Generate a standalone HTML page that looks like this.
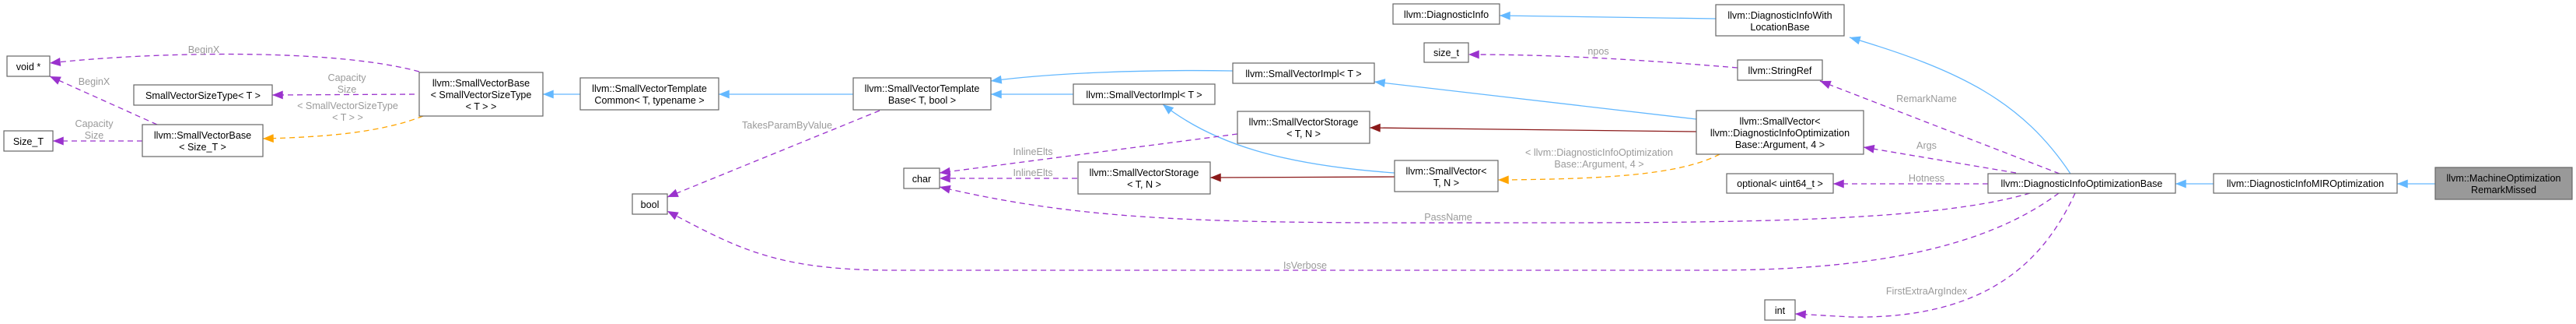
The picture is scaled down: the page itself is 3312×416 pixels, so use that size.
<!DOCTYPE html>
<html><head><meta charset="utf-8"><style>
html,body{margin:0;padding:0;background:#fff;}
svg{display:block;}
text{font-family:"Liberation Sans",Arial,sans-serif;font-size:12.6px;fill:#000;}
.l{fill:#9a9a9a;}
.n{fill:#fff;stroke:#666;stroke-width:1.2;}
.b{stroke:#63b8ff;stroke-width:1.3;fill:none;}
.r{stroke:#8b1a1a;stroke-width:1.3;fill:none;}
.p{stroke:#9a32cd;stroke-width:1.3;fill:none;stroke-dasharray:7,5;}
.o{stroke:#ffa500;stroke-width:1.3;fill:none;stroke-dasharray:7,5;}
</style></head><body>
<svg width="3312" height="416" viewBox="0 0 3312 416" xmlns="http://www.w3.org/2000/svg">
<defs>
<marker id="ab" viewBox="0 0 10 8" refX="10" refY="4" markerWidth="14" markerHeight="11" markerUnits="userSpaceOnUse" orient="auto"><path d="M0,0L10,4L0,8z" fill="#63b8ff"/></marker>
<marker id="ar" viewBox="0 0 10 8" refX="10" refY="4" markerWidth="14" markerHeight="11" markerUnits="userSpaceOnUse" orient="auto"><path d="M0,0L10,4L0,8z" fill="#8b1a1a"/></marker>
<marker id="ap" viewBox="0 0 10 8" refX="10" refY="4" markerWidth="14" markerHeight="11" markerUnits="userSpaceOnUse" orient="auto"><path d="M0,0L10,4L0,8z" fill="#9a32cd"/></marker>
<marker id="ao" viewBox="0 0 10 8" refX="10" refY="4" markerWidth="14" markerHeight="11" markerUnits="userSpaceOnUse" orient="auto"><path d="M0,0L10,4L0,8z" fill="#ffa500"/></marker>
</defs>

<!-- edges blue -->
<path class="b" d="M746,121 L698,121" marker-end="url(#ab)"/>
<path class="b" d="M1097,121 L924,121" marker-end="url(#ab)"/>
<path class="b" d="M1380,121 L1274,121" marker-end="url(#ab)"/>
<path class="b" d="M1585,91 C1470,89 1350,94 1274,104" marker-end="url(#ab)"/>
<path class="b" d="M1793,222 C1650,212 1560,185 1495,134" marker-end="url(#ab)"/>
<path class="b" d="M2181,153 L1767,105" marker-end="url(#ab)"/>
<path class="b" d="M2206,24 L1928,20" marker-end="url(#ab)"/>
<path class="b" d="M2662,223 C2600,130 2520,90 2378,48" marker-end="url(#ab)"/>
<path class="b" d="M2846,236 L2797,236" marker-end="url(#ab)"/>
<path class="b" d="M3131,236 L3082,236" marker-end="url(#ab)"/>
<!-- dark red -->
<path class="r" d="M1793,227 L1556,228" marker-end="url(#ar)"/>
<path class="r" d="M2181,169 L1761,164" marker-end="url(#ar)"/>
<!-- orange -->
<path class="o" d="M544,149 C490,170 420,176 338,178" marker-end="url(#ao)"/>
<path class="o" d="M2211,198 C2160,225 2060,230 1926,231" marker-end="url(#ao)"/>
<!-- purple -->
<path class="p" d="M539,92 C430,62 200,66 64,81" marker-end="url(#ap)"/>
<path class="p" d="M202,160 L64,98" marker-end="url(#ap)"/>
<path class="p" d="M533,121 L350,122" marker-end="url(#ap)"/>
<path class="p" d="M183,181 L68,181" marker-end="url(#ap)"/>
<path class="p" d="M1131,142 L858,253" marker-end="url(#ap)"/>
<path class="p" d="M1591,172 L1208,222" marker-end="url(#ap)"/>
<path class="p" d="M1385,229 L1208,229" marker-end="url(#ap)"/>
<path class="p" d="M2610,248 C2500,280 2300,286 2000,286 C1600,286 1420,290 1208,240" marker-end="url(#ap)"/>
<path class="p" d="M2647,248 C2550,320 2400,347 2200,347 L1150,347 C1000,347 950,320 858,271" marker-end="url(#ap)"/>
<path class="p" d="M2648,223 L2340,104" marker-end="url(#ap)"/>
<path class="p" d="M2592,222 L2396,189" marker-end="url(#ap)"/>
<path class="p" d="M2556,236 L2357,236" marker-end="url(#ap)"/>
<path class="p" d="M2668,248 C2630,330 2560,410 2380,407 L2308,403" marker-end="url(#ap)"/>
<path class="p" d="M2234,87 C2100,76 2000,70 1888,70" marker-end="url(#ap)"/>

<!-- edge labels -->
<g class="l" text-anchor="middle">
<text class="l" x="262" y="68">BeginX</text>
<text class="l" x="121" y="109">BeginX</text>
<text class="l" x="446" y="104">Capacity</text>
<text class="l" x="446" y="119">Size</text>
<text class="l" x="121" y="163">Capacity</text>
<text class="l" x="121" y="178">Size</text>
<text class="l" x="447" y="140">&lt; SmallVectorSizeType</text>
<text class="l" x="447" y="155">&lt; T &gt; &gt;</text>
<text class="l" x="1012" y="165">TakesParamByValue</text>
<text class="l" x="1328" y="199">InlineElts</text>
<text class="l" x="1328" y="226">InlineElts</text>
<text class="l" x="2055" y="70">npos</text>
<text class="l" x="1862" y="283">PassName</text>
<text class="l" x="1678" y="345">IsVerbose</text>
<text class="l" x="2056" y="200">&lt; llvm::DiagnosticInfoOptimization</text>
<text class="l" x="2056" y="215">Base::Argument, 4 &gt;</text>
<text class="l" x="2477" y="131">RemarkName</text>
<text class="l" x="2477" y="191">Args</text>
<text class="l" x="2477" y="233">Hotness</text>
<text class="l" x="2477" y="378">FirstExtraArgIndex</text>
</g>

<!-- nodes -->
<g text-anchor="middle">
<rect class="n" x="9" y="72" width="55" height="26"/><text x="36.5" y="90">void *</text>
<rect class="n" x="172" y="109" width="178" height="26"/><text x="261" y="127">SmallVectorSizeType&lt; T &gt;</text>
<rect class="n" x="5" y="168" width="63" height="26"/><text x="36.5" y="186">Size_T</text>
<rect class="n" x="183" y="160" width="155" height="41"/><text x="260.5" y="178">llvm::SmallVectorBase</text><text x="260.5" y="193">&lt; Size_T &gt;</text>
<rect class="n" x="539" y="93" width="159" height="56"/><text x="618.5" y="111">llvm::SmallVectorBase</text><text x="618.5" y="126">&lt; SmallVectorSizeType</text><text x="618.5" y="141">&lt; T &gt; &gt;</text>
<rect class="n" x="746" y="100" width="178" height="41"/><text x="835" y="118">llvm::SmallVectorTemplate</text><text x="835" y="133">Common&lt; T, typename &gt;</text>
<rect class="n" x="1097" y="100" width="177" height="41"/><text x="1185.5" y="118">llvm::SmallVectorTemplate</text><text x="1185.5" y="133">Base&lt; T, bool &gt;</text>
<rect class="n" x="813" y="249" width="45" height="26"/><text x="835.5" y="267">bool</text>
<rect class="n" x="1162" y="216" width="46" height="26"/><text x="1185" y="234">char</text>
<rect class="n" x="1380" y="108" width="182" height="26"/><text x="1471" y="126">llvm::SmallVectorImpl&lt; T &gt;</text>
<rect class="n" x="1585" y="81" width="182" height="26"/><text x="1676" y="99">llvm::SmallVectorImpl&lt; T &gt;</text>
<rect class="n" x="1591" y="143" width="170" height="41"/><text x="1676" y="161">llvm::SmallVectorStorage</text><text x="1676" y="176">&lt; T, N &gt;</text>
<rect class="n" x="1386" y="208" width="170" height="41"/><text x="1471" y="226">llvm::SmallVectorStorage</text><text x="1471" y="241">&lt; T, N &gt;</text>
<rect class="n" x="1793" y="206" width="133" height="40"/><text x="1859.5" y="224">llvm::SmallVector&lt;</text><text x="1859.5" y="239">T, N &gt;</text>
<rect class="n" x="1791" y="5" width="137" height="26"/><text x="1859.5" y="23">llvm::DiagnosticInfo</text>
<rect class="n" x="1831" y="55" width="57" height="25"/><text x="1859.5" y="72">size_t</text>
<rect class="n" x="2206" y="6" width="165" height="40"/><text x="2288.5" y="24">llvm::DiagnosticInfoWith</text><text x="2288.5" y="39">LocationBase</text>
<rect class="n" x="2234" y="77" width="109" height="26"/><text x="2288.5" y="95">llvm::StringRef</text>
<rect class="n" x="2181" y="142" width="215" height="56"/><text x="2288.5" y="160">llvm::SmallVector&lt;</text><text x="2288.5" y="175">llvm::DiagnosticInfoOptimization</text><text x="2288.5" y="190">Base::Argument, 4 &gt;</text>
<rect class="n" x="2220" y="223" width="137" height="25"/><text x="2288.5" y="240">optional&lt; uint64_t &gt;</text>
<rect class="n" x="2269" y="385" width="39" height="26"/><text x="2288.5" y="403">int</text>
<rect class="n" x="2556" y="223" width="241" height="25"/><text x="2676.5" y="240">llvm::DiagnosticInfoOptimizationBase</text>
<rect class="n" x="2846" y="223" width="236" height="25"/><text x="2964" y="240">llvm::DiagnosticInfoMIROptimization</text>
<rect class="n" x="3131" y="215" width="176" height="41" style="fill:#999"/><text x="3219" y="233">llvm::MachineOptimization</text><text x="3219" y="248">RemarkMissed</text>
</g>
</svg>
</body></html>
